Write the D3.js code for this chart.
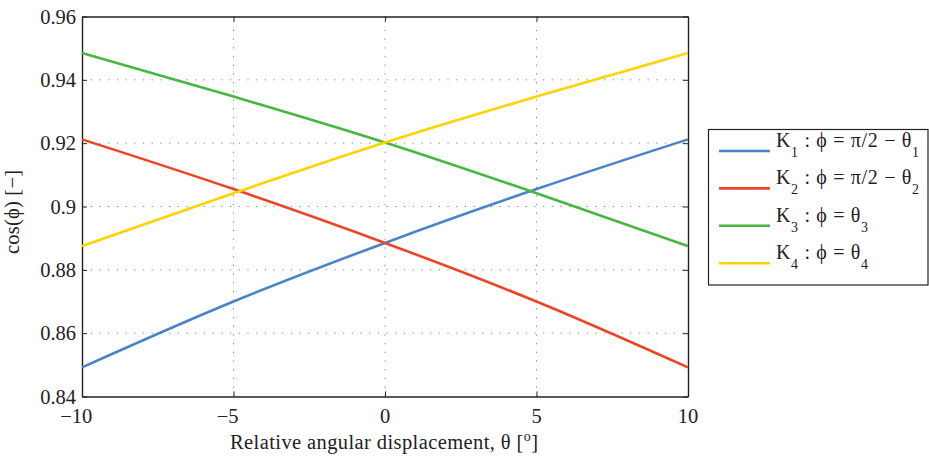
<!DOCTYPE html>
<html>
<head>
<meta charset="utf-8">
<script src="https://cdn.jsdelivr.net/npm/d3@7"></script>
<style>
  html, body { margin: 0; padding: 0; background: #fff; }
  svg { display: block; font-family: "Liberation Serif", "Times New Roman", serif; }
</style>
</head>
<body>
<svg id="chart" width="929" height="458"></svg>
<script>
// Relative angular displacement (degrees)
const theta = [-10, -5, 0, 5, 10];
// cos(phi) for each configuration
const k1 = [0.8492, 0.8700, 0.8885, 0.9055, 0.9212];
const k2 = [0.9212, 0.9055, 0.8885, 0.8700, 0.8492];
const k3 = [0.9485, 0.9347, 0.9202, 0.9042, 0.8875];
const k4 = [0.8875, 0.9042, 0.9202, 0.9347, 0.9485];

const xTicks = [-10, -5, 0, 5, 10];
const yTicks = [0.84, 0.86, 0.88, 0.90, 0.92, 0.94, 0.96];
const yTickLabels = ["0.84", "0.86", "0.88", "0.9", "0.92", "0.94", "0.96"];

const seriesNames = ["K1", "K2", "K3", "K4"];
const seriesColors = ["#4a84c6", "#ef4424", "#46b840", "#fdd400"];

const series = [k1, k2, k3, k4];

const margin = { left: 82, top: 16.5, right: 241, bottom: 61.5 };
const W = 929, H = 458;
const svg = d3.select("#chart");

const x = d3.scaleLinear().domain([-10, 10]).range([margin.left, W - margin.right]);
const y = d3.scaleLinear().domain([0.84, 0.96]).range([H - margin.bottom, margin.top]);

const x0 = x.range()[0], x1 = x.range()[1];
const y0 = y.range()[0], y1 = y.range()[1];

// dotted grid at interior ticks
const grid = svg.append("g").attr("stroke", "#8a8a8a").attr("stroke-width", 1)
  .attr("stroke-dasharray", "1.3,7.4");
xTicks.slice(1, -1).forEach(t => {
  grid.append("line").attr("x1", x(t)).attr("x2", x(t)).attr("y1", y0).attr("y2", y1);
});
yTicks.slice(1, -1).forEach(t => {
  grid.append("line").attr("x1", x0).attr("x2", x1).attr("y1", y(t)).attr("y2", y(t));
});

// axes (ticks pointing inward, box all round)
const tickLen = 5;
const axB = svg.append("g").attr("transform", `translate(0,${y0})`)
  .call(d3.axisBottom(x).tickValues(xTicks).tickSizeInner(-tickLen).tickSizeOuter(0).tickFormat(""));
const axT = svg.append("g").attr("transform", `translate(0,${y1})`)
  .call(d3.axisTop(x).tickValues(xTicks).tickSizeInner(-tickLen).tickSizeOuter(0).tickFormat(""));
const axL = svg.append("g").attr("transform", `translate(${x0},0)`)
  .call(d3.axisLeft(y).tickValues(yTicks).tickSizeInner(-tickLen).tickSizeOuter(0).tickFormat(""));
const axR = svg.append("g").attr("transform", `translate(${x1},0)`)
  .call(d3.axisRight(y).tickValues(yTicks).tickSizeInner(-tickLen).tickSizeOuter(0).tickFormat(""));
[axB, axT, axL, axR].forEach(a => {
  a.selectAll("path.domain").attr("stroke", "#222").attr("stroke-width", 1.4);
  a.selectAll(".tick line").attr("stroke", "#222").attr("stroke-width", 1);
});

// y tick labels
svg.append("g").selectAll("text").data(yTicks).join("text")
  .attr("x", x0 - 6).attr("y", d => y(d) + 7)
  .attr("text-anchor", "end").attr("font-size", 20.5).attr("fill", "#222")
  .text((d, i) => yTickLabels[i]);

// x tick labels: digits centred on the tick, minus hanging to the left
const xl = svg.append("g");
xTicks.forEach(t => {
  const digits = String(Math.abs(t));
  const probe = xl.append("text").attr("font-size", 20.5).text(digits);
  const w = probe.node().getComputedTextLength();
  probe.remove();
  xl.append("text")
    .attr("x", x(t) + w / 2).attr("y", y0 + 26)
    .attr("text-anchor", "end").attr("font-size", 20.5).attr("fill", "#222")
    .text((t < 0 ? "\u2212" : "") + digits);
});

// axis titles
const xt = svg.append("text")
  .attr("x", 230).attr("y", 449.3)
  .attr("textLength", 308).attr("lengthAdjust", "spacing")
  .attr("font-size", 20.5).attr("fill", "#222");
xt.append("tspan").text("Relative angular displacement, \u03b8 [");
xt.append("tspan").attr("font-size", 14).attr("dy", -8).text("o");
xt.append("tspan").attr("dy", 8).text("]");

svg.append("text")
  .attr("transform", `translate(19,212) rotate(-90)`)
  .attr("text-anchor", "middle").attr("font-size", 20.5).attr("fill", "#222")
  .attr("textLength", 84).attr("lengthAdjust", "spacing")
  .text("cos(\u03d5) [\u2212]");

// curves
const line = d3.line().x((d, i) => x(theta[i])).y(d => y(d)).curve(d3.curveMonotoneX);
const plot = svg.append("g");
series.forEach((s, i) => {
  plot.append("path").datum(s).attr("d", line)
    .attr("fill", "none").attr("stroke", seriesColors[i]).attr("stroke-width", 2.6);
});

// legend
const leg = svg.append("g");
leg.append("rect").attr("x", 708.5).attr("y", 129.5).attr("width", 219.5).attr("height", 155.5)
  .attr("fill", "#fff").attr("stroke", "#222").attr("stroke-width", 1.2);
const legTexts = [
  [["K", 0], ["1", 1], [" : \u03d5 = \u03c0/2 \u2212 \u03b8", 0], ["1", 1]],
  [["K", 0], ["2", 1], [" : \u03d5 = \u03c0/2 \u2212 \u03b8", 0], ["2", 1]],
  [["K", 0], ["3", 1], [" : \u03d5 = \u03b8", 0], ["3", 1]],
  [["K", 0], ["4", 1], [" : \u03d5 = \u03b8", 0], ["4", 1]]
];
const legWidths = [143, 143, 92, 92];
seriesNames.forEach((n, i) => {
  const cy = 151 + i * 37.4;
  leg.append("line").attr("x1", 719).attr("x2", 770).attr("y1", cy).attr("y2", cy)
    .attr("stroke", seriesColors[i]).attr("stroke-width", 2.6);
  const t = leg.append("text").attr("x", 776).attr("y", cy - 4)
    .attr("font-size", 20).attr("fill", "#222")
    .attr("textLength", legWidths[i]).attr("lengthAdjust", "spacing");
  let sub = false;
  legTexts[i].forEach(([s, isSub]) => {
    const ts = t.append("tspan").text(s);
    if (isSub && !sub) { ts.attr("dy", 10).attr("font-size", 14); sub = true; }
    else if (!isSub && sub) { ts.attr("dy", -10); sub = false; }
  });
});
</script>
</body>
</html>
